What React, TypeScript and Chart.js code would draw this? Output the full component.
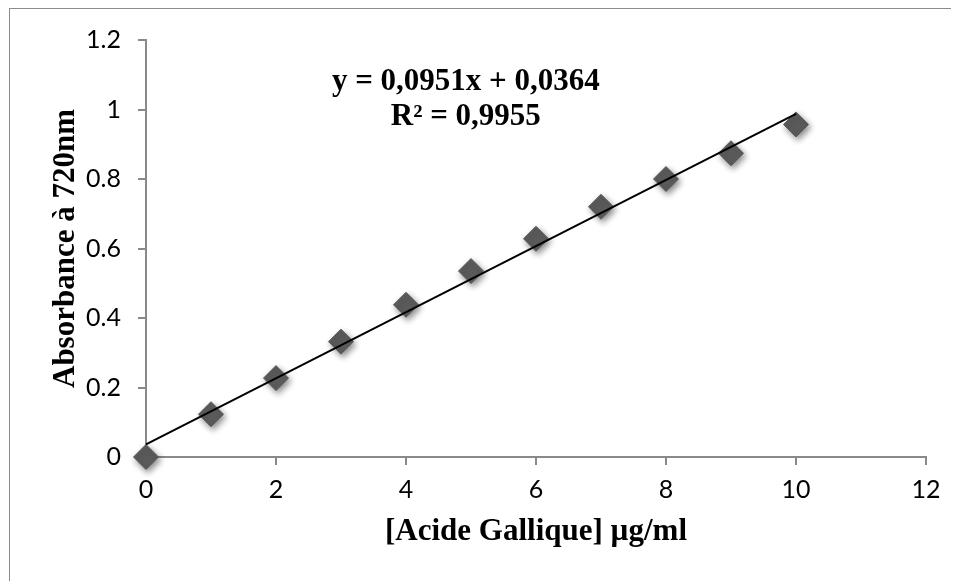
import React, { useEffect, useRef } from "react";
import { Chart, registerables } from "chart.js";

Chart.register(...registerables);

const concentrations = [0, 1, 2, 3, 4, 5, 6, 7, 8, 9, 10];
const absorbances = [0, 0.123, 0.227, 0.332, 0.438, 0.535, 0.628, 0.72, 0.8, 0.874, 0.957];
const trendSlope = 0.0951;
const trendIntercept = 0.0364;
const equationLines = ["y = 0,0951x + 0,0364", "R² = 0,9955"];
const xTickLabels = ["0", "2", "4", "6", "8", "10", "12"];
const yTickLabels = ["0", "0.2", "0.4", "0.6", "0.8", "1", "1.2"];
const xTitle = "[Acide Gallique] µg/ml";
const yTitle = "Absorbance à 720nm";

const AXIS = "#898989";
const TICK_FONT = "Lato";
const SERIF = "'Liberation Serif', 'Times New Roman', serif";

export default function App() {
  const ref = useRef<HTMLCanvasElement | null>(null);

  useEffect(() => {
    document.body.style.overflow = "hidden";
    const canvas = ref.current;
    if (!canvas) return;

    const trendX = [concentrations[0], concentrations[concentrations.length - 1]];
    const trendData = trendX.map((x) => ({ x, y: trendSlope * x + trendIntercept }));
    const pointData = concentrations.map((x, i) => ({ x, y: absorbances[i] }));

    const framePlugin = {
      id: "frame",
      beforeDraw(chart: any) {
        const ctx = chart.ctx;
        ctx.save();
        ctx.fillStyle = "#ffffff";
        ctx.fillRect(0, 0, chart.width, chart.height);
        ctx.strokeStyle = "#8c8c8c";
        ctx.lineWidth = 1;
        ctx.strokeRect(1.5, 0.5, chart.width + 20, chart.height + 20);
        ctx.restore();
      },
    };

    const shadowPlugin = {
      id: "shadow",
      beforeDatasetDraw(chart: any, args: any) {
        if (args.index !== 1) return;
        const ctx = chart.ctx;
        ctx.save();
        ctx.shadowColor = "rgba(0,0,0,0.45)";
        ctx.shadowBlur = 6;
        ctx.shadowOffsetX = 2;
        ctx.shadowOffsetY = 3;
      },
      afterDatasetDraw(chart: any, args: any) {
        if (args.index !== 1) return;
        chart.ctx.restore();
      },
    };

    const equationPlugin = {
      id: "equation",
      afterDraw(chart: any) {
        const ctx = chart.ctx;
        const xs = chart.scales.x;
        const ys = chart.scales.y;
        ctx.save();
        ctx.fillStyle = "#000";
        ctx.font = `bold 31px ${SERIF}`;
        ctx.textAlign = "center";
        ctx.textBaseline = "alphabetic";
        const cx = xs.getPixelForValue(4.92);
        ctx.fillText(equationLines[0], cx, ys.getPixelForValue(1.057));
        ctx.fillText(equationLines[1], cx, ys.getPixelForValue(0.954));
        ctx.restore();
      },
    };

    const chart = new Chart(canvas, {
      type: "scatter",
      data: {
        datasets: [
          {
            type: "line",
            label: "trend",
            data: trendData,
            borderColor: "#000000",
            borderWidth: 2,
            pointRadius: 0,
            fill: false,
            order: 0,
            clip: false,
          } as any,
          {
            label: "points",
            data: pointData,
            pointStyle: "rectRot",
            pointRadius: 12.5,
            backgroundColor: "#5b5b5b",
            borderColor: "#5b5b5b",
            borderWidth: 1,
            order: 1,
            clip: false,
          } as any,
        ],
      },
      options: {
        animation: false,
        responsive: false,
        maintainAspectRatio: false,
        devicePixelRatio: 1,
        layout: { padding: { top: 30, right: 33, left: 0, bottom: 0 } },
        plugins: { legend: { display: false }, tooltip: { enabled: false } },
        scales: {
          x: {
            type: "linear",
            min: 0,
            max: 12,
            afterFit(scale: any) {
              scale.height = 124;
            },
            ticks: {
              stepSize: 2,
              color: "#000",
              font: { family: TICK_FONT, size: 25 },
              padding: 10,
              callback: (_v: any, i: number) => xTickLabels[i],
            },
            grid: {
              display: true,
              drawOnChartArea: false,
              drawTicks: true,
              tickLength: 8,
              color: AXIS,
              lineWidth: 2,
            },
            border: { display: true, color: AXIS, width: 2 },
            title: {
              display: true,
              text: xTitle,
              color: "#000",
              font: { family: SERIF, size: 31, weight: "bold" },
              padding: { top: 0, bottom: 30 },
            },
          },
          y: {
            type: "linear",
            min: 0,
            max: 1.2,
            afterFit(scale: any) {
              scale.width = 138;
            },
            ticks: {
              stepSize: 0.2,
              color: "#000",
              font: { family: TICK_FONT, size: 25 },
              padding: 17,
              callback: (_v: any, i: number) => yTickLabels[i],
            },
            grid: {
              display: true,
              drawOnChartArea: false,
              drawTicks: true,
              tickLength: 8,
              color: AXIS,
              lineWidth: 2,
            },
            border: { display: true, color: AXIS, width: 2 },
            title: {
              display: true,
              text: yTitle,
              color: "#000",
              font: { family: SERIF, size: 31, weight: "bold" },
              padding: { top: 39, bottom: 0 },
            },
          },
        },
      },
      plugins: [framePlugin, shadowPlugin, equationPlugin],
    } as any);

    return () => chart.destroy();
  }, []);

  return (
    <div style={{ position: "relative", width: 951, height: 573 }}>
      <canvas ref={ref} width={951} height={573} style={{ display: "block", width: 951, height: 573 }} />
    </div>
  );
}
